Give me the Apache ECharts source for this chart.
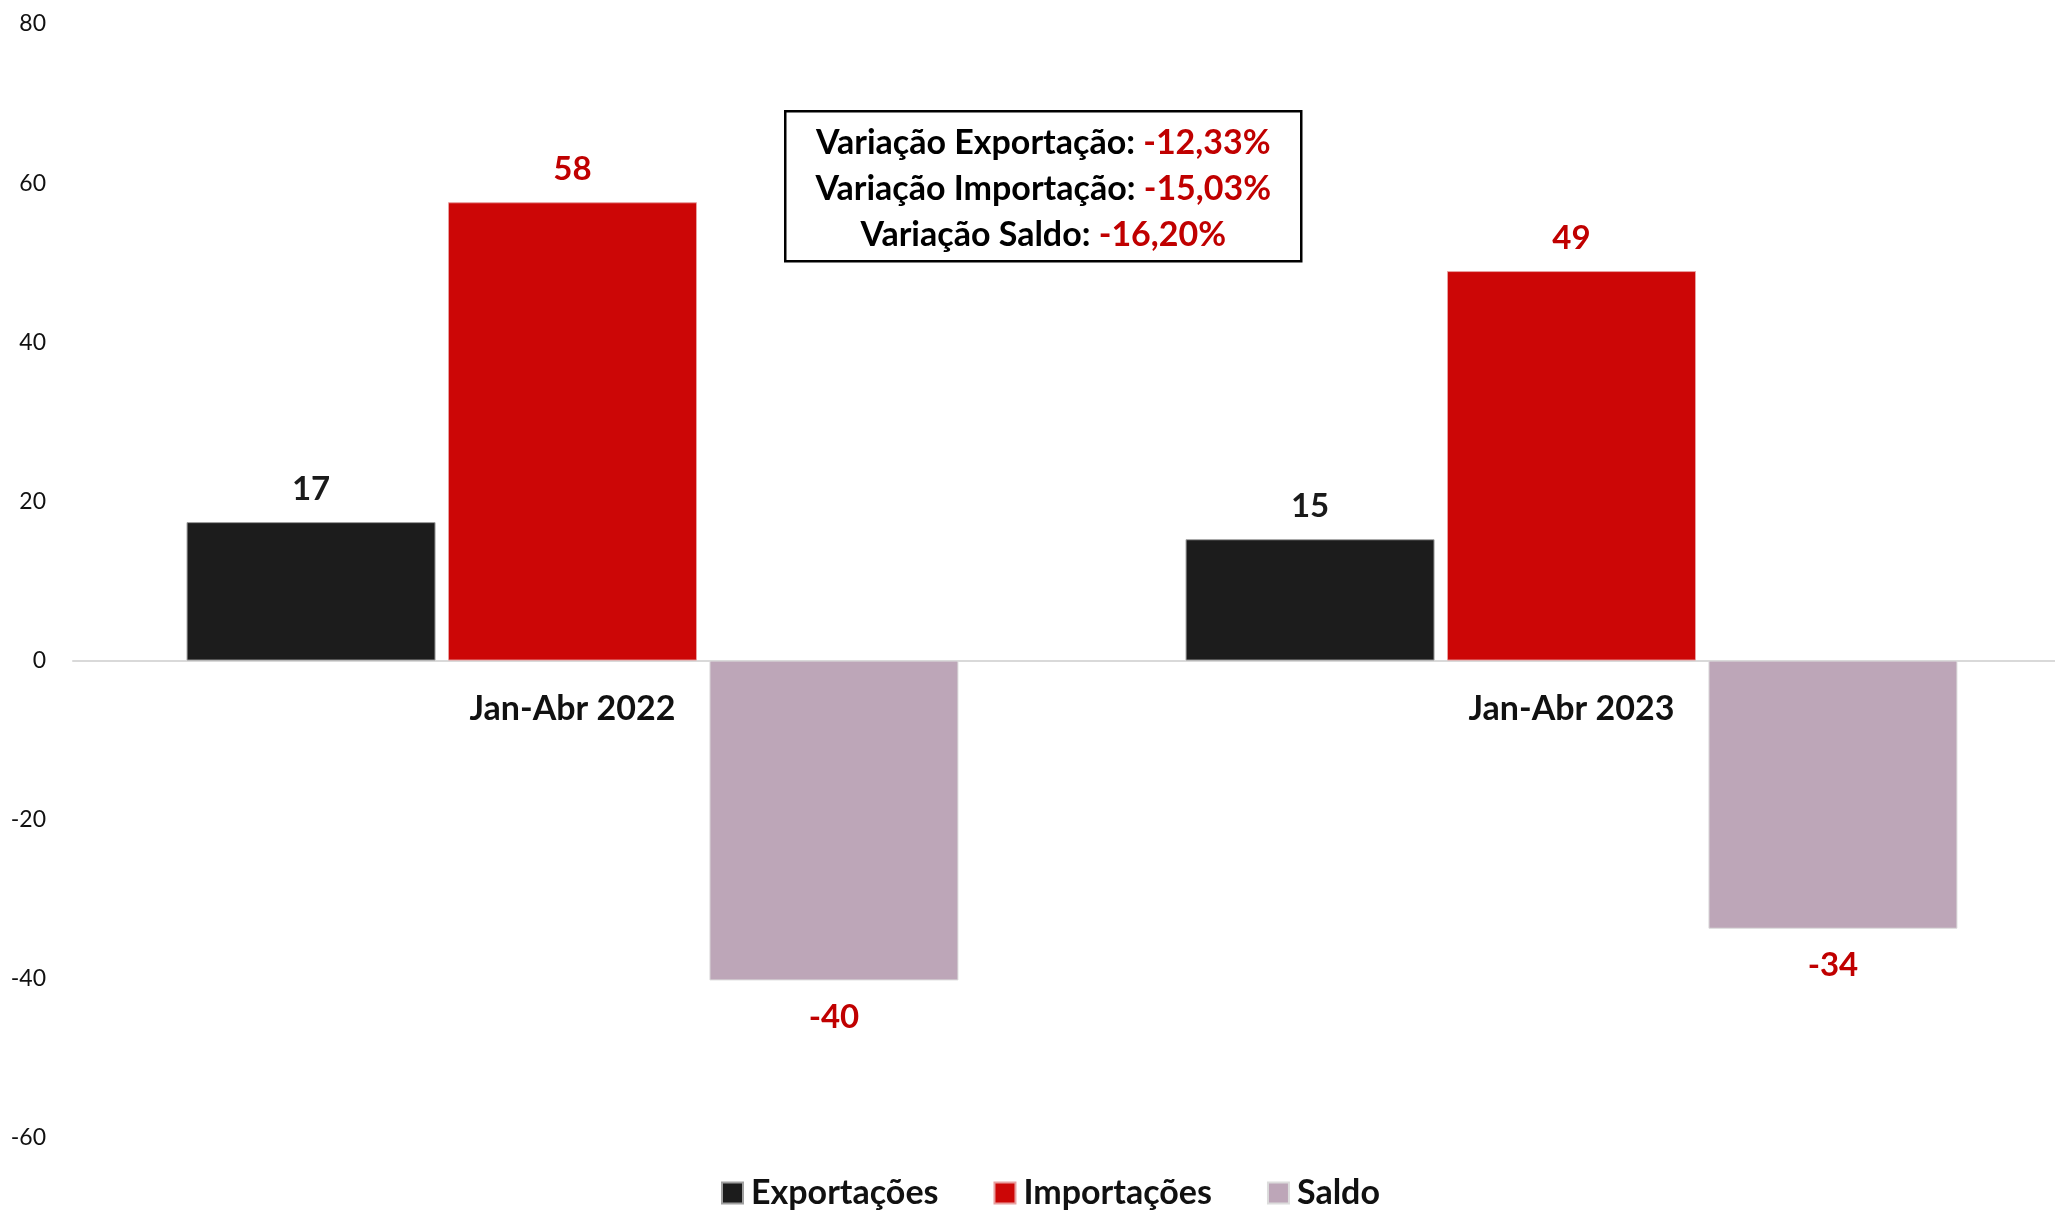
<!DOCTYPE html>
<html>
<head>
<meta charset="utf-8">
<script src="https://cdn.jsdelivr.net/npm/echarts@6/dist/echarts.min.js"></script>
<style>
  html, body { margin: 0; padding: 0; background: #fff; overflow: hidden; }
  #chart { width: 2071px; height: 1210px; }
</style>
</head>
<body>
<div id="chart"></div>
<script>
// data
const categories = ['Jan-Abr 2022', 'Jan-Abr 2023'];
const exportacoes = [17.4, 15.25];
const importacoes = [57.6, 48.95];
const saldo = [-40.2, -33.7];
const variacaoNomes = ['Variação Exportação', 'Variação Importação', 'Variação Saldo'];
const variacaoValores = ['-12,33%', '-15,03%', '-16,20%'];

const FONT = 'Lato';
const RED = '#c00000';

let boxText = variacaoNomes.map((n, i) => '{k|' + n + ': }{v|' + variacaoValores[i] + '}').join('\n');

let dom = echarts.init(document.getElementById('chart'));

let labelBase = {
  show: true,
  fontFamily: FONT,
  fontWeight: 'bold',
  fontSize: 33,
  formatter: p => Math.round(p.value)
};

let option = {
  backgroundColor: '#fff',
  animation: false,
  grid: {
    left: 73,
    right: 0,
    top: 24,
    bottom: 72
  },
  legend: {
    data: ['Exportações', 'Importações', 'Saldo'],
    left: 721,
    top: 1176,
    padding: 0,
    itemWidth: 21,
    itemHeight: 21,
    itemGap: 55,
    icon: 'rect',
    textStyle: {
      fontFamily: FONT,
      fontWeight: 'bold',
      fontSize: 34,
      color: '#111',
      padding: [0, 0, 0, 3]
    }
  },
  xAxis: {
    type: 'category',
    data: categories,
    axisLine: { lineStyle: { color: '#d9d9d9', width: 2 } },
    axisTick: { show: false },
    axisLabel: {
      // labels sit just under the zero line, not at the grid bottom
      margin: -446,
      fontFamily: FONT,
      fontWeight: 'bold',
      fontSize: 34,
      color: '#111'
    }
  },
  yAxis: {
    type: 'value',
    min: -60,
    max: 80,
    interval: 20,
    splitLine: { show: false },
    axisLine: { show: false },
    axisTick: { show: false },
    axisLabel: {
      margin: 27,
      fontFamily: FONT,
      fontSize: 23,
      color: '#111'
    }
  },
  series: [
    {
      name: 'Exportações',
      type: 'bar',
      data: exportacoes,
      barWidth: 249,
      barGap: '5%',
      itemStyle: { color: '#1c1c1c', borderColor: '#a0a0a0', borderWidth: 1 },
      label: Object.assign({}, labelBase, { position: 'top', distance: 16, color: '#1a1a1a' })
    },
    {
      name: 'Importações',
      type: 'bar',
      data: importacoes,
      barWidth: 249,
      barGap: '5%',
      itemStyle: { color: '#cc0606', borderColor: '#e8a0a0', borderWidth: 1 },
      label: Object.assign({}, labelBase, { position: 'top', distance: 16, color: RED })
    },
    {
      name: 'Saldo',
      type: 'bar',
      data: saldo,
      barWidth: 249,
      barGap: '5%',
      itemStyle: { color: '#bda6b8', borderColor: '#dcdcdc', borderWidth: 1 },
      label: Object.assign({}, labelBase, { position: 'bottom', distance: 20, color: RED })
    }
  ],
  graphic: [
    {
      type: 'group',
      left: 784,
      top: 110,
      children: [
        {
          type: 'rect',
          shape: { x: 0, y: 0, width: 516, height: 150 },
          style: { fill: '#fff', stroke: '#000', lineWidth: 2.5 }
        },
        {
          type: 'text',
          x: 258,
          y: 78,
          style: {
            text: boxText,
            align: 'center',
            verticalAlign: 'middle',
            rich: {
              k: { fontFamily: FONT, fontWeight: 'bold', fontSize: 34, lineHeight: 46, fill: '#000' },
              v: { fontFamily: FONT, fontWeight: 'bold', fontSize: 34, lineHeight: 46, fill: RED }
            }
          }
        }
      ]
    }
  ]
};

dom.setOption(option);
window.addEventListener('resize', () => dom.resize());
</script>
</body>
</html>
